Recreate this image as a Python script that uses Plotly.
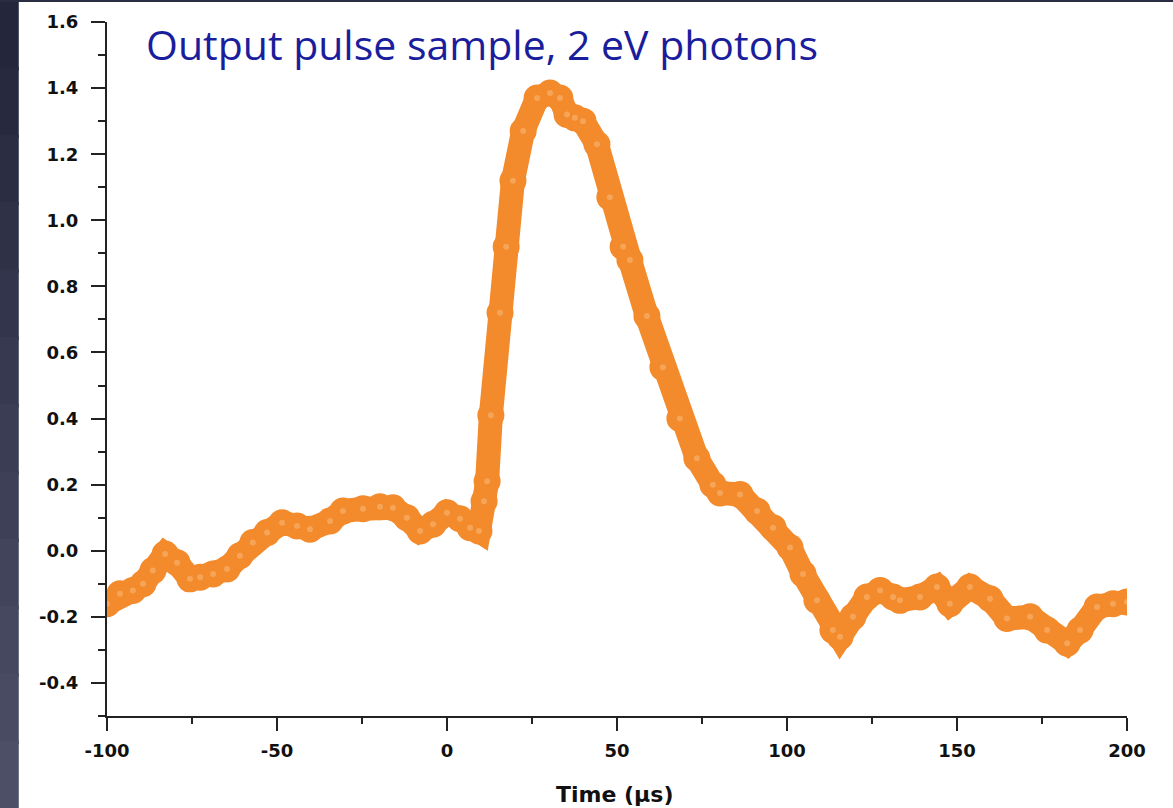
import plotly.graph_objects as go

# Time (µs) and output signal
time_us = [-100, -96.2, -92.4, -89.4, -86.5, -82.9, -79.4, -75.6, -72.6, -68.8,
           -64.7, -60.9, -57.1, -52.9, -48.5, -44.1, -40.3, -34.4, -30.6, -24.7,
           -19.7, -15.9, -11.8, -7.9, -4.1, 0.0, 3.8, 6.8, 9.4, 10.9,
           11.8, 12.9, 15.6, 17.4, 19.4, 22.4, 26.5, 30.3, 33.2, 35.3,
           37.6, 40.0, 44.1, 47.9, 51.8, 53.8, 58.8, 63.5, 68.5, 73.5,
           78.2, 80.3, 86.2, 91.2, 95.9, 100.9, 104.7, 108.8, 113.5, 115.6,
           119.4, 123.5, 127.4, 131.2, 133.2, 139.1, 144.1, 147.9, 153.8, 159.7,
           164.7, 171.5, 176.5, 182.4, 186.2, 191.2, 195.9, 200.0]
signal = [-0.16, -0.13, -0.12, -0.10, -0.06, -0.01, -0.036, -0.085, -0.08, -0.07,
          -0.055, -0.015, 0.025, 0.055, 0.085, 0.075, 0.065, 0.09, 0.12, 0.127,
          0.133, 0.13, 0.10, 0.06, 0.08, 0.115, 0.097, 0.07, 0.06, 0.15,
          0.21, 0.41, 0.72, 0.92, 1.12, 1.27, 1.37, 1.385, 1.37, 1.32,
          1.31, 1.30, 1.23, 1.07, 0.92, 0.88, 0.71, 0.555, 0.40, 0.28,
          0.20, 0.175, 0.17, 0.12, 0.07, 0.01, -0.07, -0.15, -0.24, -0.26,
          -0.20, -0.14, -0.12, -0.14, -0.15, -0.14, -0.11, -0.16, -0.11, -0.145,
          -0.205, -0.20, -0.24, -0.28, -0.24, -0.17, -0.16, -0.155]

x_ticks = [-100, -50, 0, 50, 100, 150, 200]
x_tick_text = ["-100", "-50", "0", "50", "100", "150", "200"]
y_ticks = [1.6, 1.4, 1.2, 1.0, 0.8, 0.6, 0.4, 0.2, 0.0, -0.2, -0.4]
y_tick_text = ["1.6", "1.4", "1.2", "1.0", "0.8", "0.6", "0.4", "0.2", "0.0", "-0.2", "-0.4"]

title_text = "Output pulse sample, 2 eV photons"
x_title = "Time (µs)"

ORANGE = "#f38a2b"

fig = go.Figure()
fig.add_trace(go.Scatter(
    x=time_us, y=signal, mode="lines+markers",
    line=dict(color=ORANGE, width=24, shape="linear"),
    marker=dict(color=ORANGE, size=27, line=dict(width=0)),
    showlegend=False, hoverinfo="x+y",
))
fig.add_trace(go.Scatter(
    x=time_us, y=signal, mode="markers",
    marker=dict(color="rgba(255,225,190,0.3)", size=6, line=dict(width=0)),
    showlegend=False, hoverinfo="skip",
))

axis_font = dict(family="DejaVu Sans", size=18, color="#111111", weight="bold")
AX = "#222222"

fig.update_layout(
    width=1173, height=808,
    margin=dict(l=107, r=46, t=22, b=92),
    paper_bgcolor="white", plot_bgcolor="white",
    xaxis=dict(
        range=[-100, 200], tickvals=x_ticks, ticktext=x_tick_text,
        showgrid=False, zeroline=False, showline=True, linecolor=AX, linewidth=2,
        ticks="outside", ticklen=13, tickwidth=2, tickcolor=AX,
        tickfont=axis_font,
        minor=dict(ticks="outside", ticklen=6, tickwidth=2, tickcolor=AX, dtick=25, tick0=-100, showgrid=False),
        ticklabelstandoff=4,
    ),
    yaxis=dict(
        range=[-0.5, 1.6], tickvals=y_ticks, ticktext=y_tick_text,
        showgrid=False, zeroline=False, showline=True, linecolor=AX, linewidth=2,
        ticks="outside", ticklen=14, tickwidth=2, tickcolor=AX,
        tickfont=axis_font,
        minor=dict(ticks="outside", ticklen=7, tickwidth=2, tickcolor=AX, dtick=0.1, tick0=0, showgrid=False),
        ticklabelstandoff=9,
    ),
)

# slide-style dark frame on the left and top
n = 12
H = 808 / 694
for i in range(n):
    c0 = (0x24 + (0x50 - 0x24) * i // n, 0x27 + (0x53 - 0x27) * i // n, 0x3c + (0x6a - 0x3c) * i // n)
    fig.add_shape(type="rect", xref="paper", yref="paper",
                  x0=-0.11, x1=-0.0865,
                  y0=1 + 22 / 694 - (i + 1.05) * H / n,
                  y1=1 + 22 / 694 - i * H / n,
                  fillcolor="rgb(%d,%d,%d)" % c0, line=dict(width=0), layer="above")
fig.add_shape(type="rect", xref="paper", yref="paper",
              x0=-0.11, x1=1.05, y0=1 + 20 / 694, y1=1 + 23 / 694,
              fillcolor="#2a2d42", line=dict(width=0), layer="above")

fig.add_annotation(text=title_text, xref="paper", yref="paper",
                   x=(144 - 107) / 1020, y=1 - (44 - 22) / 694,
                   xanchor="left", yanchor="middle", showarrow=False,
                   font=dict(family="Open Sans", size=41, color="#1b1e9c"))
fig.add_annotation(text=x_title, xref="paper", yref="paper",
                   x=(614 - 107) / 1020, y=-(795 - 716) / 694,
                   xanchor="center", yanchor="middle", showarrow=False,
                   font=dict(family="DejaVu Sans", size=22, color="#111111", weight="bold"))

fig.write_html("out.html", config={"displayModeBar": False},
               post_script="document.body.style.margin='0';document.body.style.overflow='hidden';")
